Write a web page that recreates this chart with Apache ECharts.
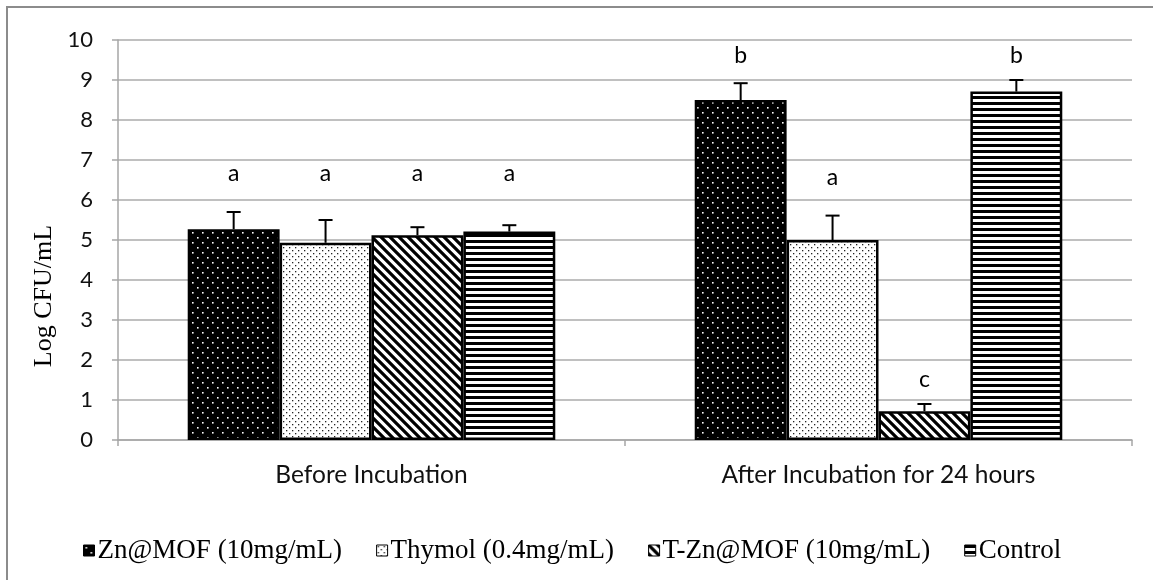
<!DOCTYPE html>
<html>
<head>
<meta charset="utf-8">
<script src="https://cdn.jsdelivr.net/npm/echarts@6/dist/echarts.min.js"></script>
<style>
  html, body { margin: 0; padding: 0; background: #fff; }
  #chart { width: 1153px; height: 580px; }
</style>
</head>
<body>
<div id="chart"></div>
<script>
// Sampling times on the category axis
const categories = ['Before Incubation', 'After Incubation for 24 hours'];

// Treatments (legend order)
const seriesNames = ['Zn@MOF (10mg/mL)', 'Thymol (0.4mg/mL)', 'T-Zn@MOF (10mg/mL)', 'Control'];

// Mean log CFU/mL per treatment
const znMof = [5.27, 8.50];
const thymol = [4.93, 5.00];
const tZnMof = [5.12, 0.72];
const control = [5.21, 8.71];

// Upper error (SD) per treatment
const znMofErr = [0.43, 0.42];
const thymolErr = [0.57, 0.61];
const tZnMofErr = [0.20, 0.18];
const controlErr = [0.16, 0.29];

// Significance letters and the level they are written at
const znMofLetters = ['a', 'b'];
const thymolLetters = ['a', 'a'];
const tZnMofLetters = ['a', 'c'];
const controlLetters = ['a', 'b'];
const znMofLetterY = [6.65, 9.62];
const thymolLetterY = [6.65, 6.55];
const tZnMofLetterY = [6.65, 1.52];
const controlLetterY = [6.65, 9.62];

// Y axis ticks
const yTicks = [0, 1, 2, 3, 4, 5, 6, 7, 8, 9, 10];

const values = [znMof, thymol, tZnMof, control];
const errors = [znMofErr, thymolErr, tZnMofErr, controlErr];
const letters = [znMofLetters, thymolLetters, tZnMofLetters, controlLetters];
const letterY = [znMofLetterY, thymolLetterY, tZnMofLetterY, controlLetterY];

const CATEGORY_GAP = 0.275;

// Fill patterns for the four treatments
function makePattern(kind) {
  const c = document.createElement('canvas');
  let ctx;
  if (kind === 'darkDots') {
    c.width = 10; c.height = 10; ctx = c.getContext('2d');
    ctx.fillStyle = '#000'; ctx.fillRect(0, 0, 10, 10);
    ctx.fillStyle = '#fff';
    ctx.fillRect(2, 2, 1.6, 1.6);
    ctx.fillRect(7, 7, 1.6, 1.6);
  } else if (kind === 'lightDots') {
    c.width = 6; c.height = 6; ctx = c.getContext('2d');
    ctx.fillStyle = '#fff'; ctx.fillRect(0, 0, 6, 6);
    ctx.fillStyle = '#222';
    ctx.fillRect(1, 1, 1.3, 1.3);
    ctx.fillRect(4, 4, 1.3, 1.3);
  } else if (kind === 'diag') {
    const s = 9;
    c.width = s; c.height = s; ctx = c.getContext('2d');
    ctx.fillStyle = '#fff'; ctx.fillRect(0, 0, s, s);
    ctx.strokeStyle = '#000'; ctx.lineWidth = 3.2;
    ctx.beginPath();
    ctx.moveTo(-s, -s); ctx.lineTo(2 * s, 2 * s);
    ctx.moveTo(-s, 0); ctx.lineTo(s, 2 * s);
    ctx.moveTo(0, -s); ctx.lineTo(2 * s, s);
    ctx.stroke();
  } else {
    c.width = 6; c.height = 6; ctx = c.getContext('2d');
    ctx.fillStyle = '#fff'; ctx.fillRect(0, 0, 6, 6);
    ctx.fillStyle = '#000'; ctx.fillRect(0, 0, 6, 3);
  }
  return { image: c, repeat: 'repeat' };
}

const patterns = [makePattern('darkDots'), makePattern('lightDots'), makePattern('diag'), makePattern('hstripes')];

const barSeries = seriesNames.map((name, i) => ({
  name: name,
  type: 'bar',
  data: values[i],
  barGap: '0%',
  barCategoryGap: (CATEGORY_GAP * 100) + '%',
  itemStyle: { color: patterns[i], borderColor: '#000', borderWidth: 2.5 },
  emphasis: { disabled: true },
  z: 2
}));

// One item per bar: [category index, series index, mean, error, letter level]
const annotData = [];
values.forEach((vals, s) => {
  vals.forEach((v, c) => {
    annotData.push([c, s, v, errors[s][c], letterY[s][c]]);
  });
});

const annotSeries = {
  type: 'custom',
  data: annotData,
  encode: { x: 0, y: 2 },
  z: 5,
  silent: true,
  renderItem(params, api) {
    const cat = api.value(0);
    const s = api.value(1);
    const mean = api.value(2);
    const err = api.value(3);
    const band = api.size([1, 0])[0];
    const bw = band * (1 - CATEGORY_GAP) / 4;
    const cx = api.coord([cat, 0])[0] + (s - 1.5) * bw;
    const yTop = api.coord([cat, mean])[1];
    const yErr = api.coord([cat, mean + err])[1];
    const yLet = api.coord([cat, api.value(4)])[1];
    const stroke = { stroke: '#000', lineWidth: 2 };
    return {
      type: 'group',
      children: [
        { type: 'line', shape: { x1: cx, y1: yTop, x2: cx, y2: yErr }, style: stroke },
        { type: 'line', shape: { x1: cx - 7, y1: yErr, x2: cx + 7, y2: yErr }, style: stroke },
        {
          type: 'text',
          style: {
            text: letters[s][cat], x: cx, y: yLet,
            textAlign: 'center', textVerticalAlign: 'middle',
            fill: '#000', font: '23px Lato'
          }
        }
      ]
    };
  }
};

const chart = echarts.init(document.getElementById('chart'), null, { renderer: 'canvas' });
chart.setOption({
  animation: false,
  backgroundColor: '#fff',
  grid: { left: 118, right: 21, top: 40, bottom: 140 },
  legend: {
    data: seriesNames,
    left: 78,
    top: 532,
    icon: 'rect',
    itemWidth: 11,
    itemHeight: 11,
    itemGap: 34,
    textStyle: { fontFamily: 'Liberation Serif', fontSize: 27, color: '#000', padding: [0, 0, 0, -2] },
    itemStyle: { borderColor: '#000', borderWidth: 1 },
    selectedMode: false
  },
  xAxis: {
    type: 'category',
    data: categories,
    axisLine: { lineStyle: { color: '#a6a6a6', width: 1.5 } },
    axisTick: { show: true, length: 6, alignWithLabel: false, lineStyle: { color: '#a6a6a6', width: 1.5 } },
    axisLabel: { fontFamily: 'Lato', fontSize: 24.5, color: '#111', margin: 23 },
    splitLine: { show: false }
  },
  yAxis: {
    type: 'value',
    min: yTicks[0],
    max: yTicks[yTicks.length - 1],
    interval: 1,
    axisLine: { show: true, lineStyle: { color: '#a6a6a6', width: 1.5 } },
    axisTick: { show: true, length: 6, lineStyle: { color: '#a6a6a6', width: 1.5 } },
    axisLabel: { fontFamily: 'Lato', fontSize: 22, color: '#111', margin: 25 },
    splitLine: { lineStyle: { color: '#ababab', width: 1.5 } }
  },
  graphic: [
    {
      type: 'rect',
      shape: { x: 7, y: 7, width: 1170, height: 600 },
      style: { fill: 'none', stroke: '#8c8c8c', lineWidth: 2 },
      z: 0
    },
    {
      type: 'text',
      x: 44, y: 296,
      rotation: Math.PI / 2,
      style: {
        text: 'Log CFU/mL', textAlign: 'center', textVerticalAlign: 'middle',
        font: '26px "Liberation Serif"', fill: '#000'
      }
    }
  ],
  series: [...barSeries, annotSeries]
});
</script>
</body>
</html>
